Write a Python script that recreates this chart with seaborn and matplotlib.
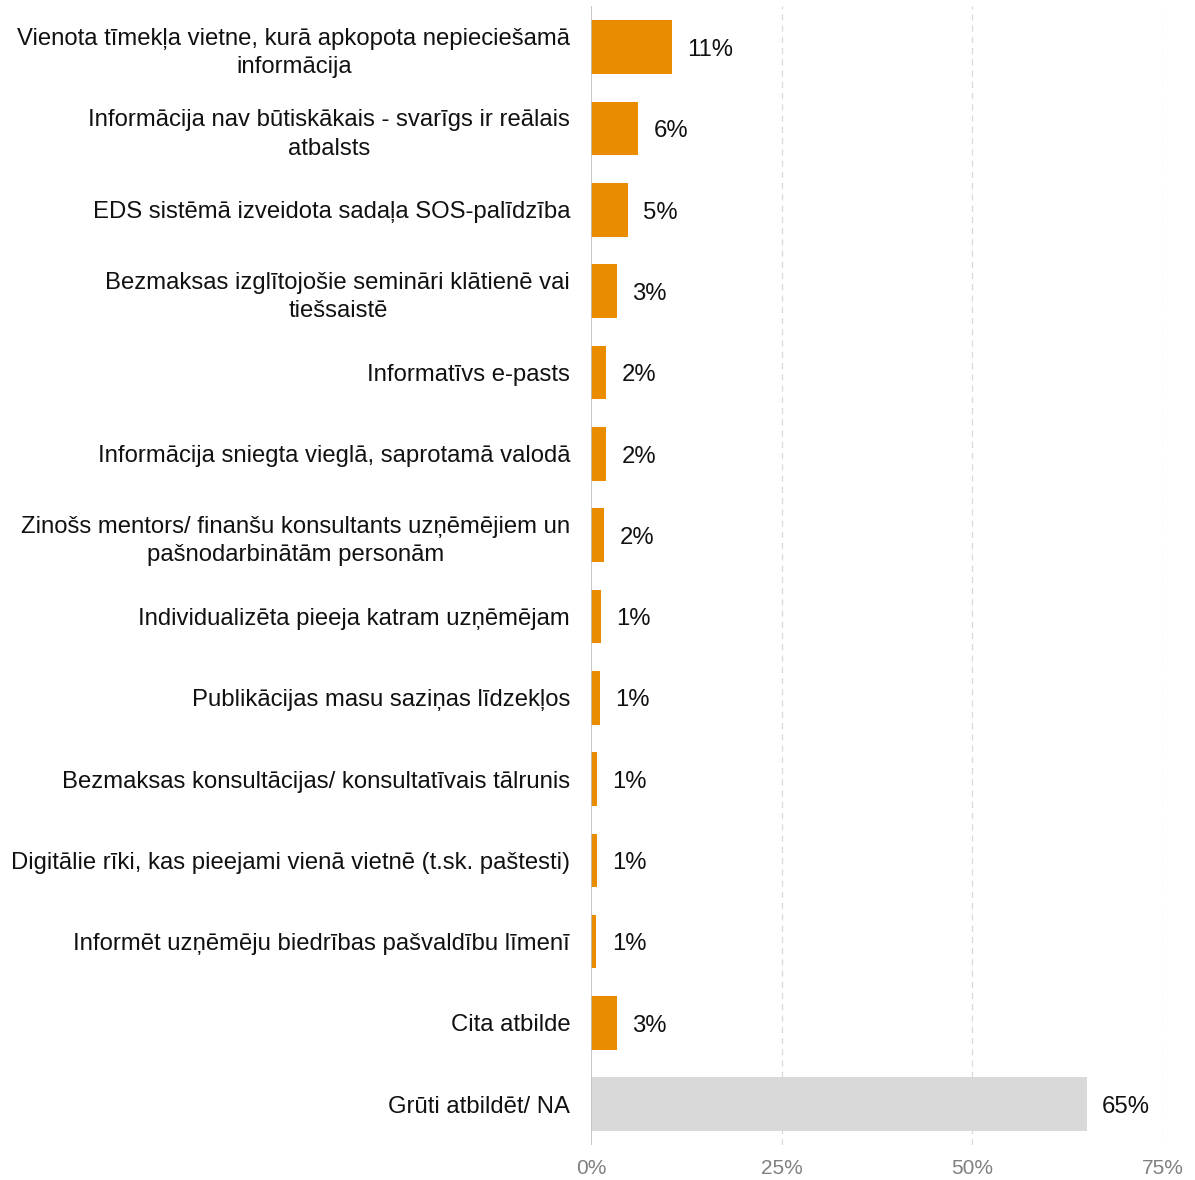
import matplotlib
matplotlib.use("Agg")
import matplotlib.pyplot as plt
import seaborn as sns
import pandas as pd

categories = [
    "Vienota tīmekļa vietne, kurā apkopota nepieciešamā\ninformācija",
    "Informācija nav būtiskākais - svarīgs ir reālais\natbalsts",
    "EDS sistēmā izveidota sadaļa SOS-palīdzība",
    "Bezmaksas izglītojošie semināri klātienē vai\ntiešsaistē",
    "Informatīvs e-pasts",
    "Informācija sniegta vieglā, saprotamā valodā",
    "Zinošs mentors/ finanšu konsultants uzņēmējiem un\npašnodarbinātām personām",
    "Individualizēta pieeja katram uzņēmējam",
    "Publikācijas masu saziņas līdzekļos",
    "Bezmaksas konsultācijas/ konsultatīvais tālrunis",
    "Digitālie rīki, kas pieejami vienā vietnē (t.sk. paštesti)",
    "Informēt uzņēmēju biedrības pašvaldību līmenī",
    "Cita atbilde",
    "Grūti atbildēt/ NA",
]
values = [10.6, 6.2, 4.8, 3.4, 2.0, 2.0, 1.7, 1.3, 1.2, 0.8, 0.8, 0.7, 3.4, 65.0]
groups = ["main"] * 13 + ["na"]
x_ticks = [0, 25, 50, 75]

ORANGE = "#EA8C00"
GREY_BAR = "#D9D9D9"

sns.set_theme(style="white")
plt.rcParams["font.family"] = ["Liberation Sans", "DejaVu Sans"]

df = pd.DataFrame({"label": categories, "value": values, "group": groups})

fig = plt.figure(figsize=(11.95, 11.8), dpi=100)
ax = fig.add_axes([0.4946, 0.0297, 0.4786, 0.9648])

sns.barplot(
    data=df, y="label", x="value", hue="group",
    palette={"main": ORANGE, "na": GREY_BAR}, saturation=1,
    dodge=False, legend=False, width=0.66, ax=ax, orient="h",
    linewidth=0,
)

ax.set_xlim(0, 75)
ax.set_xticks(x_ticks)
ax.set_xticklabels([f"{t}%" for t in x_ticks], color="#808080", fontsize=15)
ax.tick_params(axis="x", length=0, pad=10)
ax.tick_params(axis="y", length=0, pad=15)
for t in ax.get_yticklabels():
    t.set_fontsize(17.2)
    t.set_color("#111111")
    t.set_multialignment("center")
    t.set_linespacing(1.4)
ax.set_xlabel("")
ax.set_ylabel("")

for t in x_ticks[1:]:
    ax.axvline(t, color="#D9D9D9", linestyle=(0, (5, 4)), linewidth=0.9, zorder=0)
ax.axvline(0, color="#BFBFBF", linewidth=1.2, zorder=3)

for s in ax.spines.values():
    s.set_visible(False)

for i, v in enumerate(values):
    ax.annotate(f"{v:.0f}%", xy=(v, i), xytext=(11, -2), textcoords="offset points",
                va="center", ha="left", fontsize=17.2, color="#111111")

fig.savefig("out.png", dpi=100)
